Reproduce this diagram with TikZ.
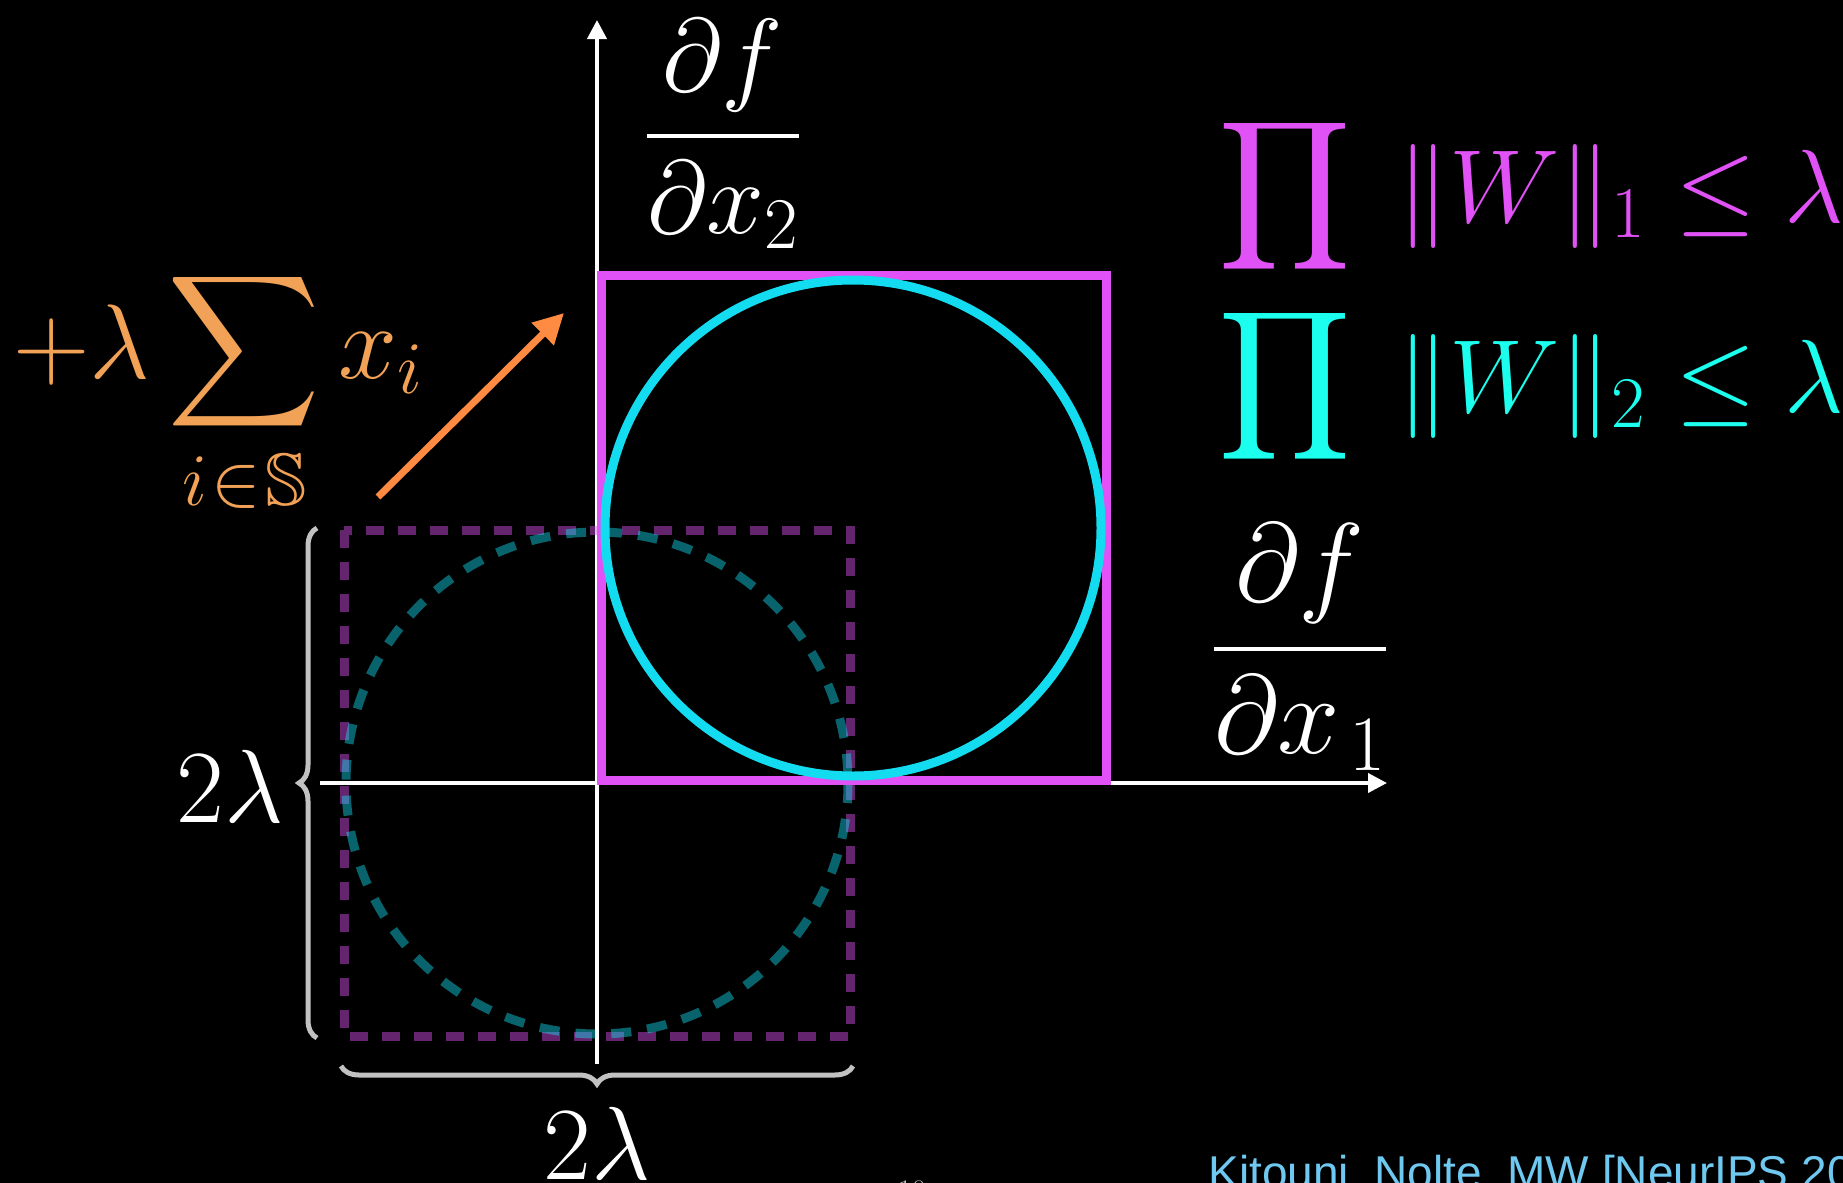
\RequirePackage{fix-cm}
\documentclass[tikz,border=0pt]{standalone}
\usepackage{amsmath,amssymb}
\usepackage{fontspec}
\usetikzlibrary{arrows.meta,calc,positioning,decorations.pathreplacing}
\newfontfamily\citefont{Liberation Sans}
\definecolor{normPink}{HTML}{E052F5}
\definecolor{normCyan}{HTML}{14DCF0}
\definecolor{normAqua}{HTML}{1CFFEE}
\definecolor{gradOrange}{HTML}{FF8A42}
\definecolor{sumOrange}{HTML}{F2A256}
\definecolor{braceGrey}{HTML}{C2C2C2}
\definecolor{citeBlue}{HTML}{6EC8F0}
\newcommand{\bigmath}{\fontsize{52}{62}\selectfont}

\begin{document}
\begin{tikzpicture}[x=0.5pt,y=-0.5pt,>=Latex]
\useasboundingbox (0,0) rectangle (1843,1183);
\path[fill=black] (0,0) rectangle (1843,1183);
\clip (0,0) rectangle (1843,1183);
\tikzset{axisline/.style={draw=white,line width=2pt,-{Triangle[width=9.5pt,length=9.5pt]}},l1box/.style={draw=normPink,line width=4.5pt},l2ring/.style={draw=normCyan,line width=4.5pt},l1ghost/.style={draw=normPink,line width=4.5pt,opacity=0.45,dash pattern=on 9pt off 7pt},l2ghost/.style={draw=normCyan,line width=4.5pt,opacity=0.45,dash pattern=on 10pt off 8pt},gradarrow/.style={draw=gradOrange,line width=3.5pt,-{Triangle[width=15pt,length=15pt]}},sizebrace/.style={draw=braceGrey,line width=2.5pt,decorate,decoration={brace,amplitude=9pt}},mathlbl/.style={text=white,inner sep=0pt,font=\bigmath}}
% axes
\coordinate (O) at (597,783);
\coordinate (ytop) at (597,20); \coordinate (ybot) at (597,1064);
\coordinate (xleft) at (320,783); \coordinate (xright) at (1387,783);
\draw[axisline] (ybot) -- (ytop);
\draw[axisline] (xleft) -- (xright);
% shifted (centred) balls
\draw[l1ghost] (344,530) rectangle (850,1036);
\draw[l2ghost] (O) circle[radius=251];
% balls in the positive quadrant
\draw[l1box] (601,780) rectangle (1106,275);
\draw[l2ring] (853,528) circle[radius=248];
% size braces
\draw[sizebrace] (317,1038) -- (317,528);
\node[mathlbl,anchor=east] (vlam) at (284,786) {$2\lambda$};
\draw[sizebrace] (853,1066) -- (341,1066);
\node[mathlbl,anchor=north] (hlam) at (597,1107) {$2\lambda$};
% shift arrow
\coordinate (gs) at (378,497); \coordinate (gt) at (564,313);
\draw[gradarrow] (gs) -- (gt);
\node[mathlbl,text=sumOrange,anchor=base west,font=\fontsize{53}{63}\selectfont] (reg) at (13,378) {$\displaystyle+\lambda\sum_{i\mkern1mu\in\mkern1mu\mathbb{S}}x_i$};
% axis labels
\node[mathlbl,anchor=base] (dx2) at (723,162) {$\dfrac{\partial f}{\partial x_2}$};
\node[mathlbl,anchor=base,font=\fontsize{56}{66}\selectfont] (dx1) at (1300,677) {$\dfrac{\partial f}{\partial x_{\mkern2mu1}}$};
% constraints
\node[mathlbl,text=normPink,anchor=base west] (p1) at (1218,222) {$\displaystyle\prod\;\|W\|_1\leq\lambda$};
\node[mathlbl,text=normAqua,anchor=base west] (p2) at (1218,412) {$\displaystyle\prod\;\|W\|_2\leq\lambda$};
\node[anchor=north,inner sep=0pt,text=white!75!black,font=\fontsize{15}{18}\selectfont] (pg) at (912,1180) {10};
\node[anchor=base west,inner sep=0pt,text=citeBlue,font=\citefont\fontsize{23}{28}\selectfont] (cite) at (1208,1188) {Kitouni, Nolte, MW [NeurIPS 20};
\end{tikzpicture}
\end{document}
